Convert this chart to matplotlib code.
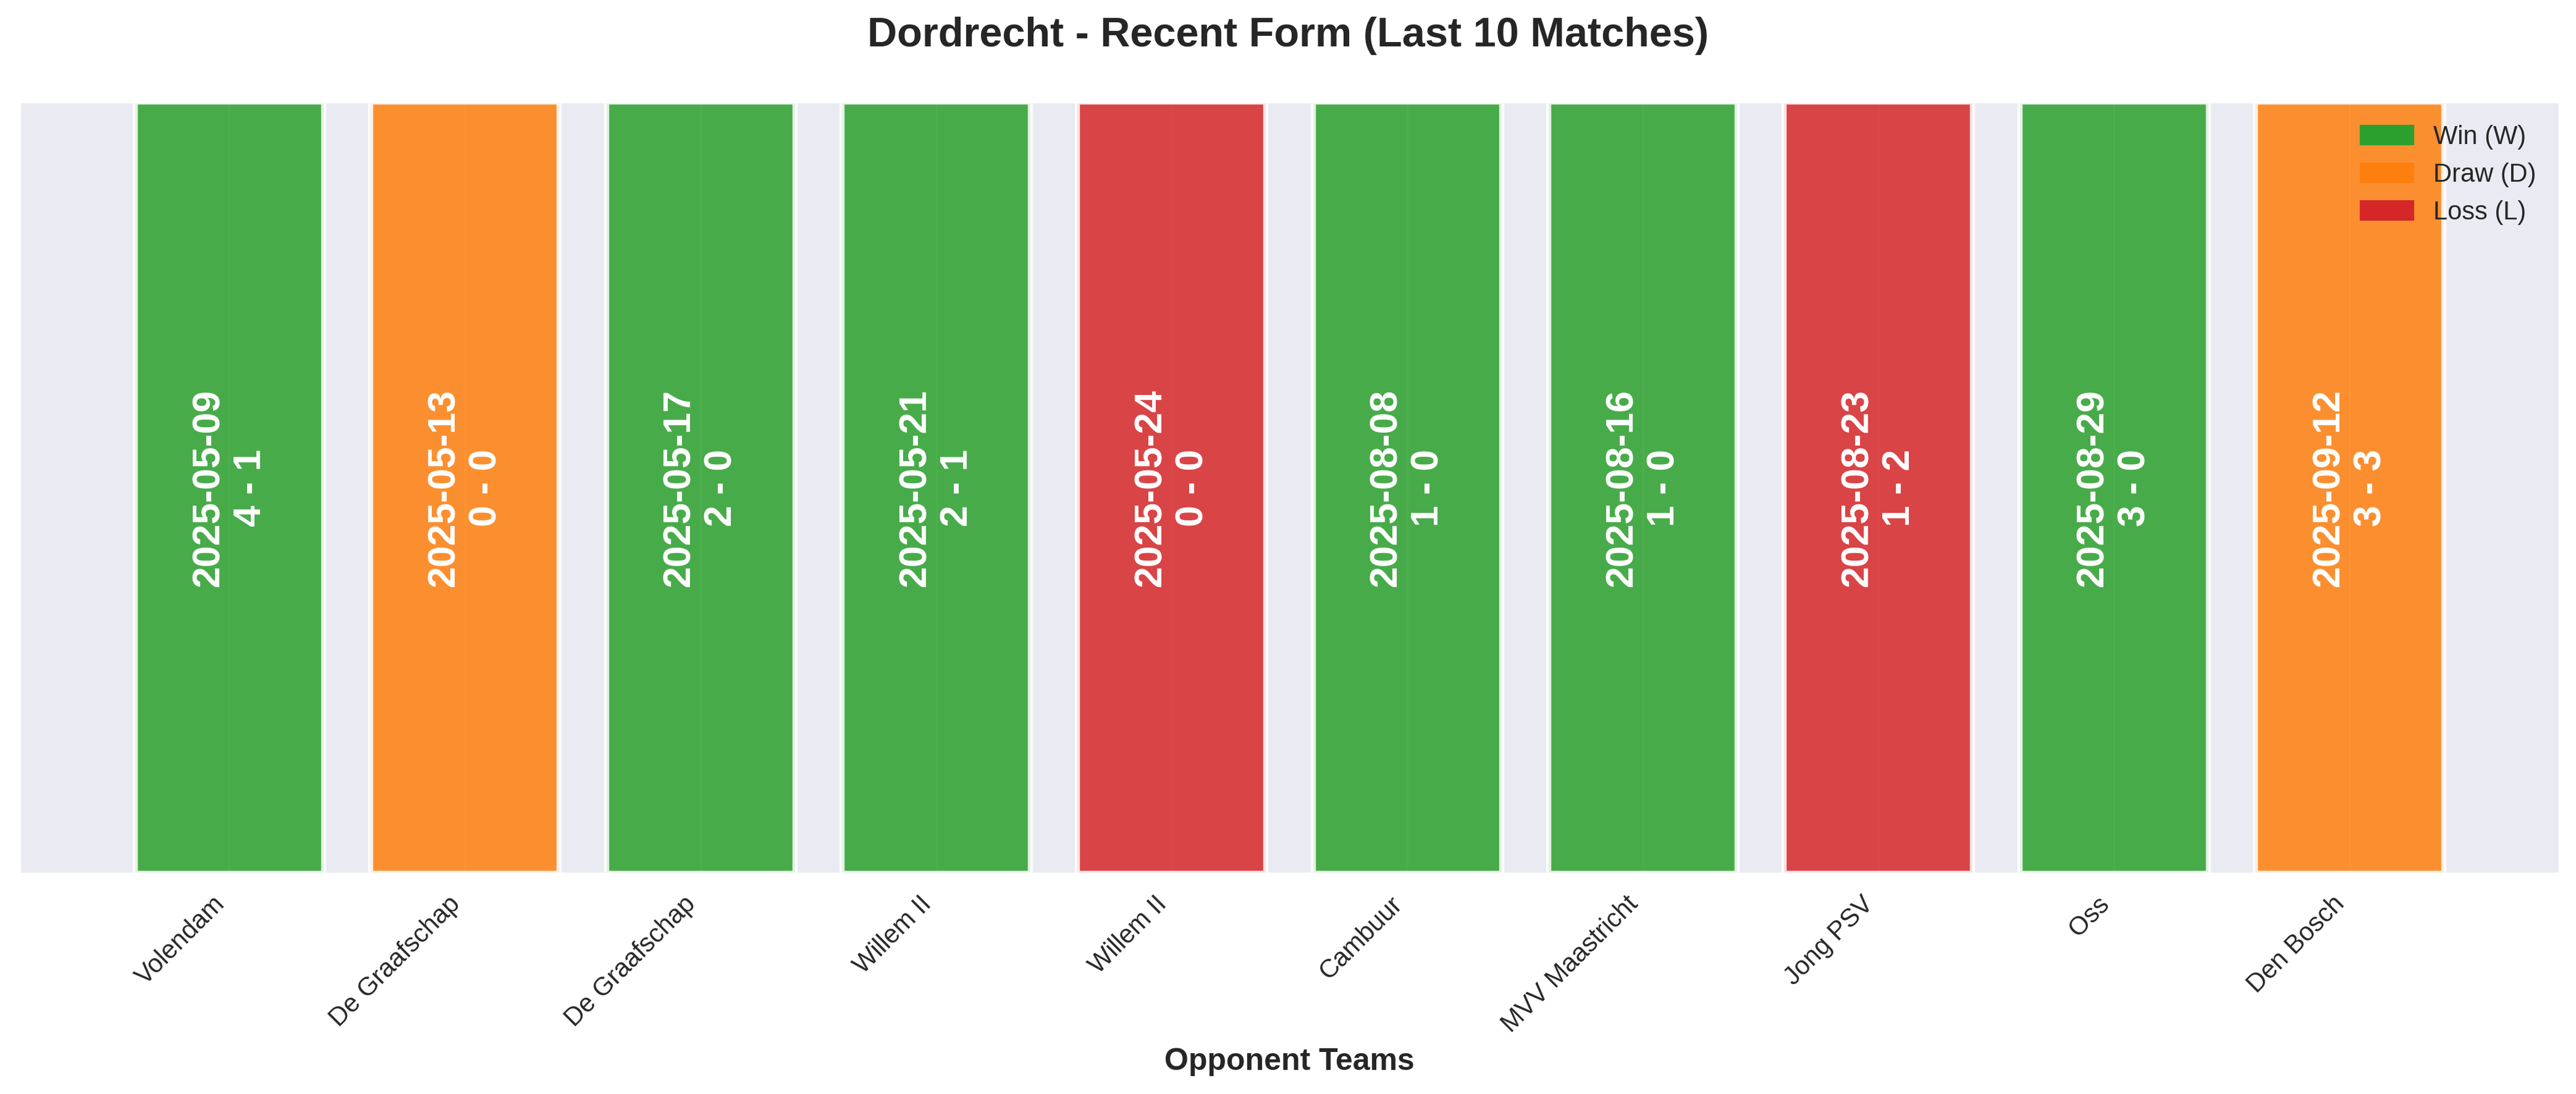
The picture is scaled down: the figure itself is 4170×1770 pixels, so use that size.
import matplotlib
matplotlib.use("Agg")
import matplotlib.pyplot as plt
import seaborn as sns
from matplotlib.patches import Patch

sns.set_style("darkgrid")
plt.rcParams['font.family'] = ['Liberation Sans', 'DejaVu Sans']

opponents = ["Volendam", "De Graafschap", "De Graafschap", "Willem II", "Willem II",
             "Cambuur", "MVV Maastricht", "Jong PSV", "Oss", "Den Bosch"]
dates = ["2025-05-09", "2025-05-13", "2025-05-17", "2025-05-21", "2025-05-24",
         "2025-08-08", "2025-08-16", "2025-08-23", "2025-08-29", "2025-09-12"]
scores = ["4 - 1", "0 - 0", "2 - 0", "2 - 1", "0 - 0",
          "1 - 0", "1 - 0", "1 - 2", "3 - 0", "3 - 3"]
results = ["W", "D", "W", "W", "L", "W", "W", "L", "W", "D"]

result_colors = {"W": "#2ca02c", "D": "#ff7f0e", "L": "#d62728"}
result_labels = {"W": "Win (W)", "D": "Draw (D)", "L": "Loss (L)"}

fig = plt.figure(figsize=(13.9, 5.9), dpi=300)
ax = fig.add_axes([0.0077, 0.2015, 0.9858, 0.7055])

x = list(range(len(opponents)))
colors = [result_colors[r] for r in results]
ax.bar(x, [1] * len(x), width=0.8, color=colors, alpha=0.85,
       edgecolor="white", linewidth=2)

for xi, d, s in zip(x, dates, scores):
    ax.text(xi, 0.5, f"{d}\n{s}", rotation=90, ha="center", va="center",
            color="white", fontsize=15, fontweight="bold")

ax.set_ylim(0, 1)
ax.set_yticks([])
ax.set_xticks(x)
ax.set_xticklabels(opponents, rotation=45, ha="right", fontsize=10)
ax.set_xlabel("Opponent Teams", fontsize=12, fontweight="bold")
fig.suptitle("Dordrecht - Recent Form (Last 10 Matches)", fontsize=16,
             fontweight="bold", y=0.985)

handles = [Patch(color=result_colors[k], label=result_labels[k]) for k in ["W", "D", "L"]]
ax.legend(handles=handles, loc="upper right", frameon=False, fontsize=10)

fig.savefig("out.png", dpi=300)
